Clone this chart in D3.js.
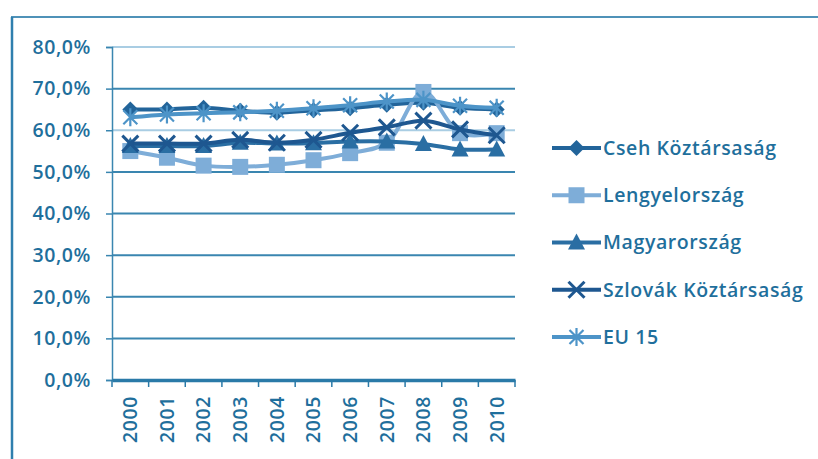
<!DOCTYPE html>
<html>
<head>
<meta charset="utf-8">
<script src="https://cdn.jsdelivr.net/npm/d3@7/dist/d3.min.js"></script>
<style>
  html, body { margin: 0; padding: 0; background: #ffffff; }
  svg { display: block; }
  text { font-family: "Open Sans", sans-serif; font-weight: 600; fill: #1f6f9c; letter-spacing: 0.6px; }
</style>
</head>
<body>
<svg id="chart" width="818" height="459"></svg>
<script>
// Employment rate (15–64), per cent
const years = ["2000","2001","2002","2003","2004","2005","2006","2007","2008","2009","2010"];
const cseh      = [65.0, 65.0, 65.4, 64.7, 64.2, 64.8, 65.3, 66.1, 66.6, 65.4, 65.0];
const lengyel   = [55.0, 53.4, 51.5, 51.2, 51.7, 52.8, 54.5, 57.0, 69.2, 59.3, 59.3];
const magyar    = [56.2, 56.2, 56.2, 57.0, 56.8, 56.9, 57.3, 57.3, 56.7, 55.4, 55.4];
const szlovak   = [56.8, 56.8, 56.8, 57.7, 57.0, 57.7, 59.4, 60.7, 62.3, 60.2, 58.8];
const eu15      = [63.1, 63.8, 64.1, 64.3, 64.7, 65.3, 66.0, 66.9, 67.3, 65.9, 65.4];
const yTicks    = [0, 10, 20, 30, 40, 50, 60, 70, 80];

const series = [
  { name: "Cseh Köztársaság",    values: cseh,    color: "#22649a", marker: "diamond" },
  { name: "Lengyelország",       values: lengyel, color: "#7eadd8", marker: "square" },
  { name: "Magyarország",        values: magyar,  color: "#2a6ea3", marker: "triangle" },
  { name: "Szlovák Köztársaság", values: szlovak, color: "#1e5790", marker: "x" },
  { name: "EU 15",               values: eu15,    color: "#4d94c8", marker: "asterisk" }
];

const fontSize = 19.5;
const svg = d3.select("#chart");

// outer chart frame
svg.append("line").attr("x1", 11).attr("x2", 818).attr("y1", 17).attr("y2", 17)
  .attr("stroke", "#4f92b8").attr("stroke-width", 2);
svg.append("line").attr("x1", 12).attr("x2", 12).attr("y1", 17).attr("y2", 459)
  .attr("stroke", "#2f7fae").attr("stroke-width", 2.5);

const plotLeft = 112, plotRight = 515, plotTop = 47, plotBottom = 380;

const x = d3.scaleBand().domain(years).range([plotLeft, plotRight]);
const y = d3.scaleLinear().domain([0, 80]).range([plotBottom, plotTop]);

// horizontal gridlines
svg.append("g").selectAll("line").data(yTicks.filter(d => d > 0)).join("line")
  .attr("x1", plotLeft).attr("x2", plotRight)
  .attr("y1", d => y(d)).attr("y2", d => y(d))
  .attr("stroke", d => (d === 80 || d === 60) ? "#a9cde3" : "#3a86b0")
  .attr("stroke-width", 2);

// y axis
const yAxis = svg.append("g").attr("transform", `translate(${plotLeft},0)`)
  .call(d3.axisLeft(y).tickValues(yTicks).tickSize(6).tickPadding(15)
    .tickFormat(d => d3.format(".1f")(d).replace(".", ",") + "%"));
yAxis.select(".domain").attr("stroke", "#3a86b0").attr("stroke-width", 1.5);
yAxis.selectAll(".tick line").attr("stroke", "#3a86b0").attr("stroke-width", 1.5);
yAxis.selectAll(".tick text").attr("font-size", fontSize)
  .attr("font-family", "Open Sans").attr("font-weight", 600).attr("fill", "#1f6f9c");

// x axis: ticks at category boundaries
const xAxis = svg.append("g").attr("transform", `translate(0,${plotBottom})`)
  .call(d3.axisBottom(x).tickSize(0).tickPadding(0));
xAxis.select(".domain").attr("stroke", "#2a7aa8").attr("stroke-width", 3.5);
xAxis.selectAll(".tick text")
  .attr("font-size", fontSize).attr("font-family", "Open Sans").attr("font-weight", 600)
  .attr("fill", "#1f6f9c")
  .attr("text-anchor", "end")
  .attr("transform", "rotate(-90)")
  .attr("x", -16).attr("y", 0).attr("dy", "0.35em");
svg.append("g").selectAll("line")
  .data(years.map(d => x(d)).concat([x(years[years.length - 1]) + x.bandwidth()]))
  .join("line")
  .attr("x1", d => d).attr("x2", d => d)
  .attr("y1", plotBottom).attr("y2", plotBottom + 7)
  .attr("stroke", "#2a7aa8").attr("stroke-width", 1.5);

const cx = d => x(d) + x.bandwidth() / 2;
const line = d3.line().curve(d3.curveCatmullRom.alpha(0.5))
  .x((v, i) => cx(years[i])).y(v => y(v));

function drawMarker(g, type, color, px, py) {
  const t = `translate(${px},${py})`;
  if (type === "diamond") {
    g.append("path").attr("d", "M0,-8L8,0L0,8L-8,0Z")
      .attr("transform", t).attr("fill", color);
  } else if (type === "square") {
    g.append("rect").attr("x", px - 8).attr("y", py - 8).attr("width", 16).attr("height", 16)
      .attr("fill", color);
  } else if (type === "triangle") {
    g.append("path").attr("d", "M0,-9L8.5,7L-8.5,7Z")
      .attr("transform", t).attr("fill", color);
  } else if (type === "x") {
    g.append("path").attr("d", "M-8,-8L8,8M-8,8L8,-8")
      .attr("transform", t)
      .attr("fill", "none").attr("stroke", color).attr("stroke-width", 3);
  } else if (type === "asterisk") {
    g.append("path").attr("d", "M-7,-7L7,7M-7,7L7,-7M0,-9V9")
      .attr("transform", t)
      .attr("fill", "none").attr("stroke", color).attr("stroke-width", 2.2);
  }
}

// series lines, then markers
const plot = svg.append("g");
series.forEach(s => {
  plot.append("path").datum(s.values).attr("d", line)
    .attr("fill", "none").attr("stroke", s.color).attr("stroke-width", 4);
  const mg = plot.append("g");
  s.values.forEach((v, i) => drawMarker(mg, s.marker, s.color, cx(years[i]), y(v)));
});

// legend
const legend = svg.append("g");
const legendY = d3.scalePoint().domain(series.map(s => s.name)).range([148, 337]);
series.forEach(s => {
  const ly = legendY(s.name);
  legend.append("line").attr("x1", 552).attr("x2", 601).attr("y1", ly).attr("y2", ly)
    .attr("stroke", s.color).attr("stroke-width", 4);
  drawMarker(legend, s.marker, s.color, 576.5, ly);
  legend.append("text").attr("x", 603).attr("y", ly).attr("dy", "0.35em")
    .attr("font-size", fontSize).attr("fill", "#1f6f9c").text(s.name);
});
</script>
</body>
</html>
